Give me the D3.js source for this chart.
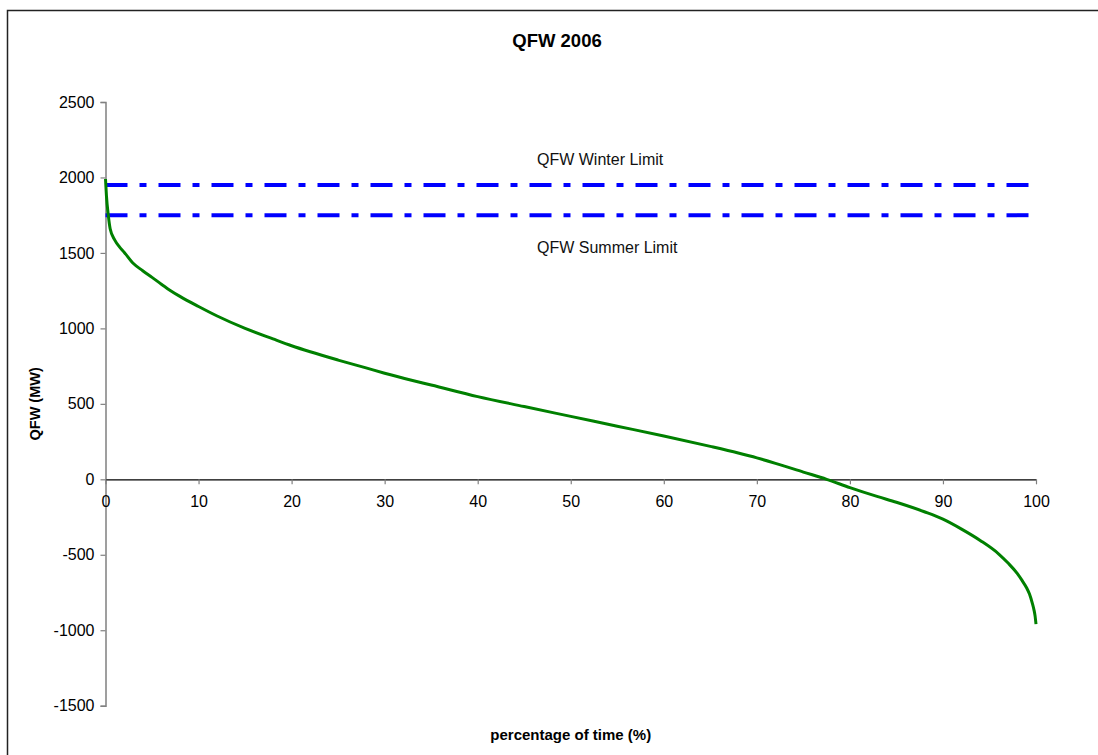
<!DOCTYPE html>
<html>
<head>
<meta charset="utf-8">
<script src="https://cdn.jsdelivr.net/npm/d3@7/dist/d3.min.js"></script>
<style>
  html, body { margin: 0; padding: 0; background: #fff; }
  svg { display: block; font-family: "Liberation Sans", Arial, sans-serif; }
</style>
</head>
<body>
<svg id="chart" width="1098" height="755"></svg>
<script>
// ---- data ----
const title = "QFW 2006";
const xTitle = "percentage of time (%)";
const yTitle = "QFW (MW)";
const xTicks = [0, 10, 20, 30, 40, 50, 60, 70, 80, 90, 100];
const yTicks = [-1500, -1000, -500, 0, 500, 1000, 1500, 2000, 2500];
const pct = [0, 0.1, 0.3, 0.5, 1, 1.5, 2, 3, 4, 5, 6, 7, 8, 10, 12, 15, 18, 20, 22, 25, 28, 30, 33, 35, 40, 45, 50, 55, 60, 65, 68, 70, 72, 75, 77.5, 80, 83, 85, 88, 90, 92, 94, 96, 97, 98, 98.5, 99, 99.3, 99.6, 99.8, 99.9, 100];
const qfw = [1990, 1880, 1750, 1660, 1585, 1540, 1505, 1430, 1382, 1338, 1293, 1250, 1212, 1145, 1082, 1000, 930, 885, 845, 790, 738, 703, 655, 625, 548, 482, 417, 352, 287, 218, 174, 142, 106, 48, 0, -55, -115, -152, -215, -264, -330, -405, -495, -555, -625, -670, -720, -760, -820, -870, -905, -960];
const limitNames = ["QFW Winter Limit", "QFW Summer Limit"];
const limitValues = [1950, 1750];

// ---- layout ----
const svg = d3.select("#chart");
const x = d3.scaleLinear().domain([0, 100]).range([105.5, 1036]);
const y = d3.scaleLinear().domain([-1500, 2500]).range([705.7, 102]);

// outer frame
svg.append("rect").attr("x", 7.5).attr("y", 10.5).attr("width", 1100).attr("height", 760)
  .attr("fill", "none").attr("stroke", "#222").attr("stroke-width", 1.5);

// title
svg.append("text").attr("x", 557).attr("y", 47).attr("text-anchor", "middle")
  .attr("font-size", 18.5).attr("font-weight", "bold").attr("fill", "#000").text(title);

// y axis
const fmt = d => String(d); // plain hyphen-minus like the reference
const yAxis = svg.append("g").attr("transform", `translate(${x(0)},0)`)
  .call(d3.axisLeft(y).tickValues(yTicks).tickSize(5).tickPadding(6).tickFormat(fmt));
yAxis.select(".domain").attr("stroke", "#808080").attr("stroke-width", 1.5);
yAxis.selectAll(".tick line").attr("stroke", "#808080").attr("stroke-width", 1.2);
yAxis.selectAll("text").attr("font-size", 16).attr("fill", "#000")
  .attr("font-family", "Liberation Sans, Arial, sans-serif");

// x axis at y=0
const xAxis = svg.append("g").attr("transform", `translate(0,${y(0)})`)
  .call(d3.axisBottom(x).tickValues(xTicks).tickSize(5).tickSizeOuter(0).tickPadding(11).tickFormat(fmt));
xAxis.select(".domain").attr("stroke", "#000").attr("stroke-width", 1.3);
xAxis.selectAll(".tick line").attr("stroke", "#808080").attr("stroke-width", 1.2);
xAxis.selectAll("text").attr("font-size", 16).attr("fill", "#000")
  .attr("font-family", "Liberation Sans, Arial, sans-serif");

// axis titles
svg.append("text").attr("x", (x(0) + x(100)) / 2).attr("y", 740).attr("text-anchor", "middle")
  .attr("font-size", 15).attr("font-weight", "bold").text(xTitle);
svg.append("text").attr("transform", `translate(40,${(y(2500) + y(-1500)) / 2}) rotate(-90)`)
  .attr("text-anchor", "middle").attr("font-size", 14.5).attr("font-weight", "bold").text(yTitle);

// limit lines
limitValues.forEach((v, i) => {
  svg.append("line").attr("x1", x(0)).attr("x2", x(100)).attr("y1", y(v)).attr("y2", y(v))
    .attr("stroke", "#0000ff").attr("stroke-width", 4).attr("stroke-dasharray", "22,12,7,12");
});
svg.append("text").attr("x", 537).attr("y", 165).attr("font-size", 16).attr("fill", "#111").text(limitNames[0]);
svg.append("text").attr("x", 537).attr("y", 253).attr("font-size", 16).attr("fill", "#111").text(limitNames[1]);

// duration curve
const pts = pct.map((p, i) => [p, qfw[i]]);
const line = d3.line().x(d => x(d[0])).y(d => y(d[1])).curve(d3.curveMonotoneX);
svg.append("path").datum(pts).attr("d", line).attr("fill", "none")
  .attr("stroke", "#008000").attr("stroke-width", 3);
</script>
</body>
</html>
